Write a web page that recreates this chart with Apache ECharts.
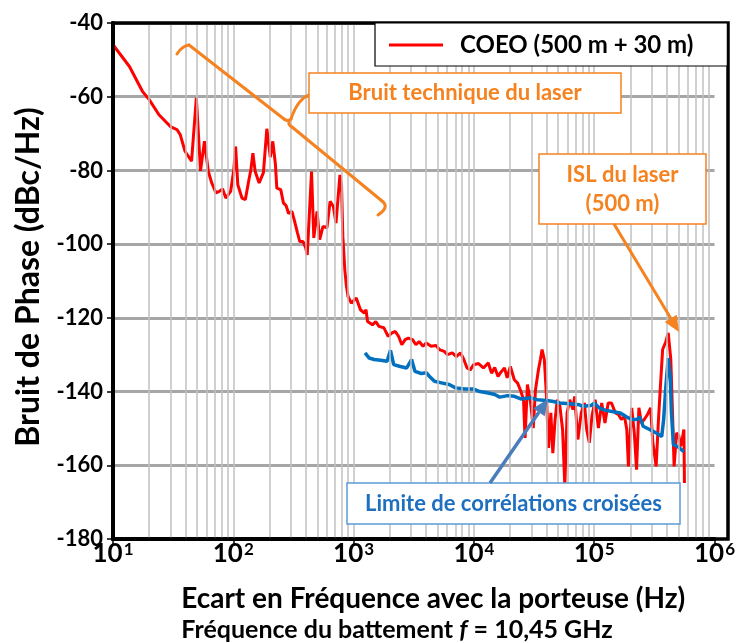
<!DOCTYPE html>
<html>
<head>
<meta charset="utf-8">
<script src="https://cdn.jsdelivr.net/npm/echarts@6/dist/echarts.min.js"></script>
<style>
  html, body { margin: 0; padding: 0; background: #fff; }
  #chart { width: 738px; height: 643px; }
</style>
</head>
<body>
<div id="chart"></div>
<script>
// Phase noise of the COEO (500 m + 30 m) measured against offset frequency,
// and the cross-correlation floor of the measurement bench.
// Each point is [offset frequency (Hz), phase noise (dBc/Hz)].
const coeoPoints = [
  [10, -45.9], [13.7, -51.8], [17.6, -58.6], [20, -60.8], [24.1, -64.9], [30, -68.1],
  [34, -68.9], [36.2, -70.3], [39.7, -74.8], [45, -77.5], [49.3, -60.3], [53.4, -80.1],
  [57.6, -72.1], [62, -80.3], [66.2, -83.4], [71.8, -86.1], [76.5, -85.7], [81.4, -85.0],
  [86.6, -87.5], [95, -85.7], [101, -79.8], [104.5, -73.5], [109, -83.9], [118, -87.5],
  [126, -87.9], [134, -83.0], [140, -79.8], [145.5, -75.3], [152, -80.3], [164, -83.4],
  [178, -80.6], [190, -68.7], [203, -76.4], [213, -72.1], [224, -78.4], [230, -84.8],
  [248, -85.2], [261, -88.8], [275, -89.6], [288, -91.7], [307, -91.1], [321, -93.4],
  [342, -97.0], [357, -99.3], [380, -99.3], [400, -101.0], [412, -102.9], [447, -80.3],
  [467, -98.3], [497, -91.1], [522, -98.8], [557, -95.2], [600, -95.6], [638, -88.4],
  [679, -89.8], [714, -94.3], [770, -81.2], [794, -84.3], [814, -97.9], [845, -106.9],
  [869, -111.0], [899, -114.2], [958, -116.0], [1052, -114.6], [1140, -117.8], [1228, -118.7],
  [1268, -117.8], [1306, -121.0], [1435, -121.9], [1528, -121.0], [1625, -122.3], [1786, -122.7],
  [1936, -125.0], [2085, -124.1], [2222, -123.7], [2365, -125.0], [2516, -127.3], [2682, -125.9],
  [2851, -125.5], [3092, -125.9], [3296, -127.3], [3506, -126.4], [3777, -127.7], [4018, -126.8],
  [4413, -127.7], [4845, -127.5], [5162, -128.6], [5670, -129.1], [6031, -130.0], [6621, -129.5],
  [7140, -130.5], [7742, -129.5], [8250, -131.3], [8770, -133.6], [9330, -134.1], [9950, -132.7],
  [10920, -132.4], [12000, -133.6], [13180, -132.2], [14010, -135.0], [14900, -133.5], [15880, -135.9],
  [16890, -134.6], [17970, -133.6], [18900, -136.3], [20100, -133.2], [21670, -136.8], [23100, -137.7],
  [24570, -139.9], [25840, -142.2], [26630, -152.6], [27850, -138.1], [29630, -143.1], [31150, -149.9],
  [32500, -139.5], [34400, -134.1], [35700, -131.3], [36870, -128.6], [38500, -131.3], [39990, -140.4],
  [41730, -155.3], [43620, -145.8], [45300, -156.7], [47300, -147.6], [49370, -142.2], [51900, -144.0],
  [54600, -150.3], [57000, -165.7], [59500, -145.8], [62600, -142.2], [66600, -144.9], [68800, -141.3],
  [73200, -153.0], [78000, -145.8], [82900, -143.1], [86600, -150.3], [91100, -153.9], [95800, -146.7],
  [101900, -142.2], [108400, -149.9], [115500, -143.1], [122900, -148.5], [130700, -143.1], [139300, -143.1],
  [150100, -145.8], [159700, -146.3], [168000, -147.6], [178600, -146.7], [186600, -150.3], [192600, -160.3],
  [204900, -144.4], [215500, -151.2], [225000, -161.2], [235300, -144.4], [247200, -148.5], [260000, -147.6],
  [276400, -146.3], [294400, -144.4], [307400, -153.9], [327300, -160.3], [342300, -147.6], [355100, -138.6],
  [370600, -128.6], [394500, -126.4], [412500, -124.1], [433400, -131.3], [447100, -144.9], [461500, -160.3],
  [484400, -151.2], [504800, -152.0], [522300, -154.9], [539100, -153.0], [556600, -150.3], [562700, -164.8]
];

const limitPoints = [
  [1245, -129.5], [1349, -130.9], [1482, -131.3], [1680, -131.5], [1900, -131.8], [2026, -128.8],
  [2155, -132.7], [2443, -133.2], [2763, -133.6], [3034, -131.3], [3235, -134.5], [3659, -135.1],
  [4017, -134.9], [4281, -135.9], [4700, -137.2], [5495, -137.7], [6230, -138.1], [7046, -139.0],
  [8496, -139.3], [9950, -139.3], [11190, -140.0], [13180, -140.4], [14900, -140.8], [16370, -141.5],
  [19150, -141.1], [21670, -141.3], [24570, -142.0], [29630, -141.7], [33600, -142.2], [40500, -142.4],
  [45800, -142.7], [51900, -143.1], [62600, -143.3], [75500, -143.6], [80300, -144.0], [94000, -143.8],
  [100000, -143.1], [109900, -144.4], [124500, -145.1], [140900, -145.4], [164900, -145.8], [186600, -146.9],
  [204900, -147.6], [225000, -147.6], [239600, -146.9], [255100, -149.4], [289000, -150.3], [327300, -151.2],
  [364100, -152.2], [377700, -147.6], [394500, -138.6], [412500, -130.9], [428600, -135.9], [438800, -145.8],
  [455700, -154.4], [491400, -154.9], [556600, -156.3]
];

const xRange = [10, 1e6];
const yRange = [-180, -40];
const yStep = 20;

const coeoName = 'COEO (500 m + 30 m)';
const limitName = 'Limite de corrélations croisées';
const laserNoiseText = 'Bruit technique du laser';
const islText = 'ISL du laser\n(500 m)';

const FONT = 'Lato, "Open Sans", "DejaVu Sans", sans-serif';
const ORANGE = '#f5821f';
const RED = '#ff0000';
const BLUE = '#0070c0';
const ARROW_BLUE = '#4a7ebb';

// Plot rectangle (pixels inside the 738 × 643 canvas)
const PLOT = { left: 113, top: 23, right: 728, bottom: 539 };

// Vertical grid at 1..9 × each decade inside the plotted range
const vGrid = [];
for (let d = xRange[0]; d < xRange[1]; d *= 10) {
  for (let k = 1; k <= 9; k++) {
    const v = k * d;
    if (v > xRange[0] && v < xRange[1]) vGrid.push(v);
  }
}

// Straight arrow with a filled triangular head
function arrow(x1, y1, x2, y2, color, width, headLen, headHalf) {
  const ang = Math.atan2(y2 - y1, x2 - x1);
  const bx = x2 - headLen * Math.cos(ang), by = y2 - headLen * Math.sin(ang);
  const nx = -Math.sin(ang), ny = Math.cos(ang);
  return [
    { type: 'line', z: 100, shape: { x1, y1, x2: bx, y2: by },
      style: { stroke: color, lineWidth: width } },
    { type: 'polygon', z: 100,
      shape: { points: [[x2, y2], [bx + nx * headHalf, by + ny * headHalf], [bx - nx * headHalf, by - ny * headHalf]] },
      style: { fill: color } }
  ];
}

function box(x, y, w, h, stroke, text, color, fontSize, lineHeight) {
  return [
    { type: 'rect', z: 100, shape: { x, y, width: w, height: h },
      style: { fill: '#fff', stroke, lineWidth: 1.5 } },
    { type: 'text', z: 101, x: x + w / 2, y: y + h / 2,
      style: { text, fill: color, font: 'bold ' + fontSize + 'px ' + FONT, align: 'center',
               verticalAlign: 'middle', lineHeight: lineHeight || fontSize + 4 } }
  ];
}

// Curly brace spanning the laser technical-noise region
function brace(color) {
  const st = { stroke: color, lineWidth: 3, fill: null, lineCap: 'round' };
  return [
    { type: 'bezierCurve', z: 100, shape: { x1: 177, y1: 54, cpx1: 182, cpy1: 46, x2: 189, y2: 45 }, style: st },
    { type: 'line', z: 100, shape: { x1: 189, y1: 45, x2: 284, y2: 119 }, style: st },
    { type: 'bezierCurve', z: 100, shape: { x1: 284, y1: 119, cpx1: 288, cpy1: 122, x2: 291, y2: 119 }, style: st },
    { type: 'bezierCurve', z: 100, shape: { x1: 291, y1: 119, cpx1: 296, cpy1: 104, cpx2: 302, cpy2: 98, x2: 310, y2: 94 }, style: st },
    { type: 'bezierCurve', z: 100, shape: { x1: 289, y1: 121, cpx1: 288, cpy1: 125, x2: 292, y2: 127 }, style: st },
    { type: 'line', z: 100, shape: { x1: 292, y1: 127, x2: 382, y2: 201 }, style: st },
    { type: 'bezierCurve', z: 100, shape: { x1: 382, y1: 201, cpx1: 390, cpy1: 207, x2: 378, y2: 215 }, style: st }
  ];
}

const chart = echarts.init(document.getElementById('chart'), null, { renderer: 'canvas' });

chart.setOption({
  animation: false,
  backgroundColor: '#fff',
  grid: {
    left: PLOT.left, right: 738 - PLOT.right, top: PLOT.top, bottom: 643 - PLOT.bottom,
    show: false
  },
  legend: {
    data: [{ name: coeoName, icon: 'rect' }],
    left: 375, top: 23,
    padding: [10, 34, 9, 14],
    backgroundColor: '#fff', borderColor: '#000', borderWidth: 1.2,
    itemWidth: 54, itemHeight: 3,
    textStyle: { fontFamily: FONT, fontWeight: 'bold', fontSize: 24, color: '#000', padding: [0, 0, 0, 12] },
    z: 50
  },
  xAxis: {
    type: 'log', logBase: 10, min: xRange[0], max: xRange[1],
    name: 'Ecart en Fréquence avec la porteuse (Hz)',
    nameLocation: 'middle', nameGap: 46,
    nameTextStyle: { fontFamily: FONT, fontWeight: 'bold', fontSize: 28, color: '#000', padding: [0, 0, 0, 39] },
    axisLine: { show: true, onZero: false, lineStyle: { color: '#000', width: 4 } },
    axisTick: { show: true, length: 5, lineStyle: { color: '#000', width: 1.5 } },
    splitLine: { show: false },
    axisLabel: {
      margin: 2,
      formatter: v => '{b|10}{s|' + Math.round(Math.log10(v)) + '}',
      rich: {
        b: { fontFamily: FONT, fontWeight: 'bold', fontSize: 26, color: '#000' },
        s: { fontFamily: FONT, fontWeight: 'bold', fontSize: 17, color: '#000', verticalAlign: 'top', padding: [0, 0, 9, 1] }
      }
    }
  },
  yAxis: {
    type: 'value', min: yRange[0], max: yRange[1], interval: yStep,
    name: 'Bruit de Phase (dBc/Hz)',
    nameLocation: 'middle', nameRotate: 90, nameGap: 68,
    nameTextStyle: { fontFamily: FONT, fontWeight: 'bold', fontSize: 32, color: '#000', padding: [0, 0, 0, 8] },
    axisLine: { show: true, onZero: false, lineStyle: { color: '#000', width: 4 } },
    axisTick: { show: true, length: 6, lineStyle: { color: '#000', width: 1.5 } },
    axisLabel: { margin: 10, fontFamily: FONT, fontWeight: 'bold', fontSize: 22, color: '#000' },
    splitLine: { show: true, lineStyle: { color: '#a6a6a6', width: 3 } }
  },
  series: [
    {
      name: 'grille', type: 'line', data: [], z: 1, silent: true,
      markLine: {
        silent: true, symbol: ['none', 'none'], label: { show: false },
        lineStyle: { color: '#c0c0c0', width: 1.5, type: 'solid' },
        emphasis: { disabled: true },
        data: vGrid.map(v => ({ xAxis: v }))
      }
    },
    {
      name: coeoName, type: 'line', data: coeoPoints, symbol: 'none', z: 3,
      lineStyle: { color: RED, width: 3 }, itemStyle: { color: RED }
    },
    {
      name: limitName, type: 'line', data: limitPoints, symbol: 'none', z: 4,
      lineStyle: { color: BLUE, width: 3.5 }, itemStyle: { color: BLUE }
    }
  ],
  graphic: [
    // heavy black frame around the plot
    { type: 'rect', z: 40, silent: true,
      shape: { x: PLOT.left, y: PLOT.top, width: PLOT.right - PLOT.left, height: PLOT.bottom - PLOT.top },
      style: { fill: null, stroke: '#000', lineWidth: 3.5 } },
    ...brace(ORANGE),
    ...box(309, 73, 312, 40, ORANGE, laserNoiseText, ORANGE, 22),
    ...box(539, 154, 167, 70, ORANGE, islText, ORANGE, 22, 29),
    ...arrow(614, 224, 679, 332, ORANGE, 3, 16, 7),
    ...box(347, 483, 333, 41, '#5b9bd5', limitName, '#1f6fc0', 22),
    ...arrow(490, 483, 548, 399, ARROW_BLUE, 3.5, 16, 7),
    {
      type: 'text', z: 101, x: 397, y: 630,
      style: {
        text: '{a|Fréquence du battement }{i|f}{a| = 10,45 GHz}',
        align: 'center', verticalAlign: 'middle',
        rich: {
          a: { font: 'bold 25px ' + FONT, fill: '#000' },
          i: { font: 'italic bold 25px ' + FONT, fill: '#000' }
        }
      }
    }
  ]
});
</script>
</body>
</html>
